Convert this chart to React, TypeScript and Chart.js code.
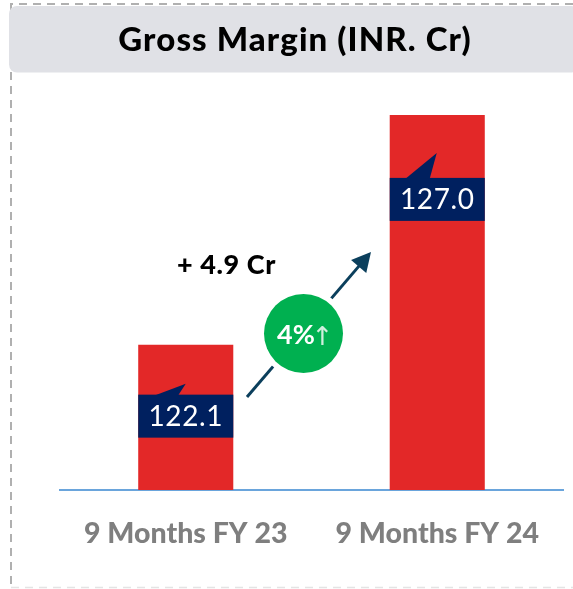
import { useEffect, useRef } from "react";
import { Chart, registerables } from "chart.js";

Chart.register(...registerables);

const categories = ["9 Months FY 23", "9 Months FY 24"];
const grossMargin = [122.1, 127.0];
const valueLabels = ["122.1", "127.0"];
const titleText = "Gross Margin (INR. Cr)";
const deltaText = "+ 4.9 Cr";
const growthText = "4%";
const growthArrow = "↑";

const RED = "#e32828";
const NAVY = "#00205f";
const ARROW = "#0b3f5c";
const GREEN = "#00b050";

const decorations = {
  id: "decorations",
  beforeDraw(chart: any) {
    const { ctx } = chart;
    ctx.save();
    ctx.strokeStyle = "#b0b0b0";
    ctx.lineWidth = 2;
    ctx.setLineDash([8, 6]);
    ctx.beginPath();
    ctx.moveTo(573, 4);
    ctx.lineTo(11, 4);
    ctx.lineTo(11, 587);
    ctx.stroke();
    ctx.strokeStyle = "#e4e4e4";
    ctx.lineWidth = 1.5;
    ctx.beginPath();
    ctx.moveTo(11, 587.5);
    ctx.lineTo(573, 587.5);
    ctx.stroke();
    ctx.setLineDash([]);
    ctx.fillStyle = "#e0e1e6";
    ctx.beginPath();
    ctx.roundRect(9, 6, 570, 66.5, 8);
    ctx.fill();
    ctx.fillStyle = "#000";
    ctx.font = "900 33px Lato";
    ctx.textAlign = "center";
    ctx.textBaseline = "middle";
    ctx.letterSpacing = "1.1px";
    ctx.fillText(titleText, 295, 40);
    ctx.letterSpacing = "0px";
    ctx.restore();
  },
  afterDatasetsDraw(chart: any) {
    const { ctx } = chart;
    const bars = chart.getDatasetMeta(0).data;
    const shapes = [
      { top: 50, h: 43, l: -30.5, r: -7.5, ax: 0, ay: -11 },
      { top: 63, h: 43, l: -31.5, r: -7.5, ax: -0.5, ay: -25 },
    ];
    ctx.save();
    bars.forEach((bar: any, i: number) => {
      const s = shapes[i];
      const half = bar.width / 2;
      const y = bar.y + s.top;
      ctx.fillStyle = NAVY;
      ctx.fillRect(bar.x - half, y, bar.width, s.h);
      ctx.beginPath();
      ctx.moveTo(bar.x + s.l, y + 0.5);
      ctx.lineTo(bar.x + s.ax, y + s.ay);
      ctx.lineTo(bar.x + s.r, y + 0.5);
      ctx.closePath();
      ctx.fill();
      ctx.fillStyle = "#fff";
      ctx.font = "28px Lato";
      ctx.textAlign = "center";
      ctx.textBaseline = "middle";
      ctx.letterSpacing = "0.6px";
      ctx.fillText(valueLabels[i], bar.x, y + s.h / 2 + 0.5);
      ctx.letterSpacing = "0px";
    });

    // growth arrow
    const x0 = 247, y0 = 397, x1 = 371, y1 = 252;
    const ang = Math.atan2(y1 - y0, x1 - x0);
    ctx.strokeStyle = ARROW;
    ctx.fillStyle = ARROW;
    ctx.lineWidth = 3;
    ctx.beginPath();
    ctx.moveTo(x0, y0);
    ctx.lineTo(x1 - 10 * Math.cos(ang), y1 - 10 * Math.sin(ang));
    ctx.stroke();
    const len = 19, wid = 10;
    const bx = x1 - len * Math.cos(ang), by = y1 - len * Math.sin(ang);
    ctx.beginPath();
    ctx.moveTo(x1, y1);
    ctx.lineTo(bx - wid * Math.sin(ang), by + wid * Math.cos(ang));
    ctx.lineTo(bx + wid * Math.sin(ang), by - wid * Math.cos(ang));
    ctx.closePath();
    ctx.fill();

    // growth badge
    ctx.fillStyle = "#fff";
    ctx.beginPath();
    ctx.arc(303.5, 333.5, 45, 0, Math.PI * 2);
    ctx.fill();
    ctx.fillStyle = GREEN;
    ctx.beginPath();
    ctx.arc(303.5, 333.5, 39.5, 0, Math.PI * 2);
    ctx.fill();
    ctx.fillStyle = "#fff";
    ctx.font = "bold 27px Lato";
    ctx.textAlign = "left";
    ctx.textBaseline = "middle";
    ctx.fillText(growthText, 277, 335);
    ctx.fillStyle = "#cfeedd";
    ctx.font = "26px 'DejaVu Sans'";
    ctx.textAlign = "center";
    ctx.fillText(growthArrow, 322.5, 338);

    // delta label
    ctx.fillStyle = "#000";
    ctx.font = "900 27px Lato";
    ctx.textAlign = "center";
    ctx.letterSpacing = "0.6px";
    ctx.fillText(deltaText, 226.5, 265);
    ctx.restore();
  },
};

export default function App() {
  const ref = useRef<HTMLCanvasElement>(null);
  useEffect(() => {
    const chart = new Chart(ref.current!, {
      type: "bar",
      data: {
        labels: categories,
        datasets: [
          {
            data: grossMargin,
            backgroundColor: RED,
            barPercentage: 0.378,
            categoryPercentage: 1,
          },
        ],
      },
      options: {
        animation: false,
        responsive: false,
        layout: { padding: { left: 60, right: 10, top: 68, bottom: 0 } },
        plugins: { legend: { display: false }, tooltip: { enabled: false } },
        scales: {
          x: {
            afterFit: (s: any) => {
              s.height = 99;
            },
            grid: { display: false, drawTicks: false },
            border: { color: "#6aa5dc", width: 2 },
            ticks: {
              color: "#7f7f7f",
              font: { family: "Lato", weight: "900", size: 28.5 },
              padding: 27,
              maxRotation: 0,
              autoSkip: false,
            },
          },
          y: {
            display: false,
            min: 119,
            max: 128,
          },
        },
      },
      plugins: [decorations],
    } as any);
    return () => chart.destroy();
  }, []);
  return (
    <div style={{ position: "absolute", left: 0, top: 0, width: 573, height: 589, overflow: "hidden", background: "#fff" }}>
      <canvas ref={ref} width={573} height={589} style={{ display: "block" }} />
    </div>
  );
}
